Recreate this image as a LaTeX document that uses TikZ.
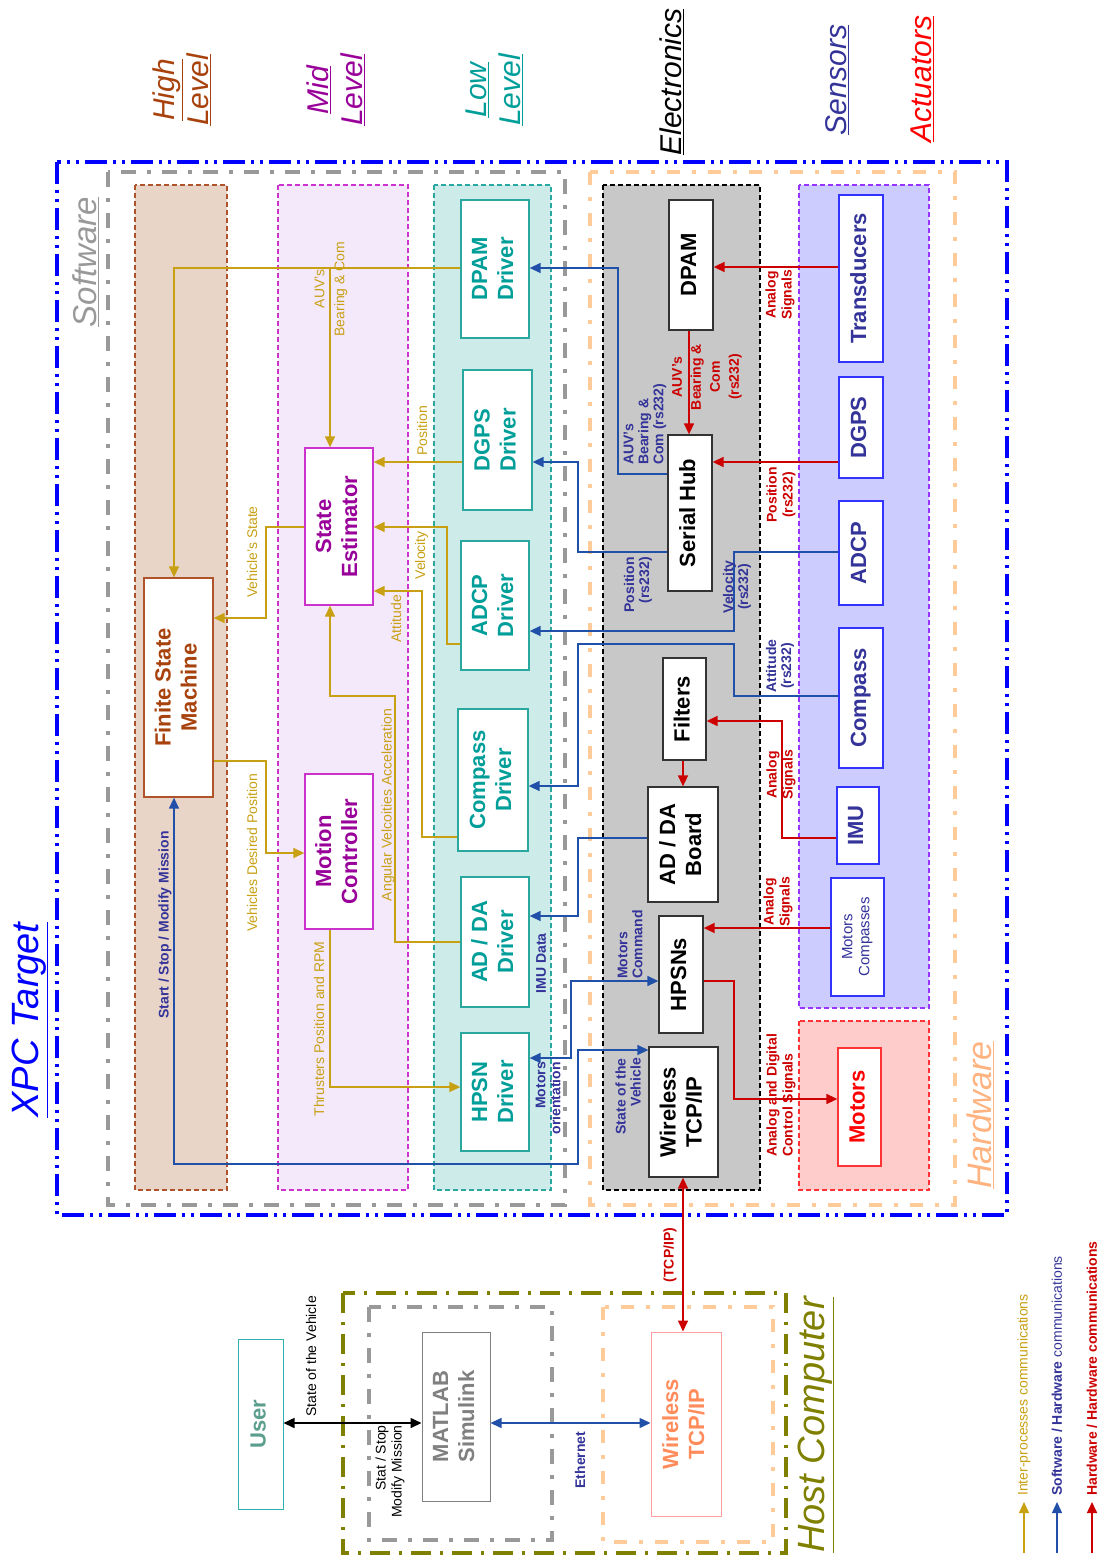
\documentclass[tikz,border=0pt]{standalone}
\usepackage{fontspec}
\setmainfont{Liberation Sans}
\usepackage{graphicx}
\usetikzlibrary{arrows.meta}
\definecolor{xpcblue}{HTML}{0000FF}
\definecolor{swgray}{HTML}{999999}
\definecolor{hwpeach}{HTML}{FFCC99}
\definecolor{hwtext}{HTML}{FFB380}
\definecolor{hlfill}{HTML}{E8D5C8}
\definecolor{hlline}{HTML}{B0532A}
\definecolor{hltext}{HTML}{A8420C}
\definecolor{mlfill}{HTML}{F4E9FB}
\definecolor{mlline}{HTML}{CC33CC}
\definecolor{mltext}{HTML}{990099}
\definecolor{llfill}{HTML}{CCEBE9}
\definecolor{llline}{HTML}{2AA8A0}
\definecolor{lltext}{HTML}{009E99}
\definecolor{elfill}{HTML}{C8C8C8}
\definecolor{snfill}{HTML}{CCCCFF}
\definecolor{snline}{HTML}{9933FF}
\definecolor{snbord}{HTML}{3333FF}
\definecolor{sntext}{HTML}{333399}
\definecolor{acfill}{HTML}{FFCCCC}
\definecolor{acline}{HTML}{FF3333}
\definecolor{ipcgold}{HTML}{C8A014}
\definecolor{comblue}{HTML}{2150A8}
\definecolor{hwred}{HTML}{CC0000}
\definecolor{hostolive}{HTML}{808000}
\definecolor{usertext}{HTML}{5C9E8E}
\definecolor{userline}{HTML}{33B0B0}
\definecolor{mattext}{HTML}{808080}
\definecolor{hwlline}{HTML}{FFA0A0}
\definecolor{hwltext}{HTML}{FF8C5A}
\newcommand\rtx[1]{\rotatebox{90}{\begin{tabular}{@{}c@{}}#1\end{tabular}}}
\tikzset{
  onearr/.style={-{Triangle[length=11pt,width=10pt]}},
  twoarr/.style={{Triangle[length=11pt,width=10pt]}-{Triangle[length=11pt,width=10pt]}},
  xframe/.style={line width=3.5pt},
  lane/.style={line width=1.2pt,dash pattern=on 5pt off 3pt},
  blk/.style={draw,fill=white,line width=1.3pt,inner sep=0pt,font=\fontsize{22}{26}\selectfont\bfseries},
  sz/.style 2 args={minimum width=#1pt,minimum height=#2pt},
  hlbox/.style={blk,draw=hlline,text=hltext},
  mlbox/.style={blk,draw=mlline,text=mltext},
  llbox/.style={blk,draw=llline,text=lltext},
  elbox/.style={blk,draw=black!80,text=black},
  snbox/.style={blk,draw=snbord,text=sntext},
  acbox/.style={blk,draw=acline,text=red},
  lbl/.style={rotate=90,inner sep=0pt,align=center,font=\fontsize{14}{16}\selectfont},
  glbl/.style={lbl,text=ipcgold},
  blbl/.style={lbl,text=sntext,font=\fontsize{14}{15}\selectfont\bfseries},
  rlbl/.style={lbl,text=hwred,font=\fontsize{14}{16}\selectfont\bfseries},
  ttl/.style={rotate=90,inner sep=0pt,align=center,font=\fontsize{30}{34}\selectfont\itshape},
  gw/.style={ipcgold,line width=1.4pt},
  bw/.style={comblue,line width=1.4pt},
  rw/.style={hwred,line width=1.6pt},
}
\begin{document}
\begin{tikzpicture}[x=1pt,y=-1pt]
  \useasboundingbox (0,0) rectangle (1104,1557);
  % lanes
  \draw[lane,draw=hlline,fill=hlfill] (135,185) rectangle (227,1190);
  \draw[lane,draw=mlline,fill=mlfill] (278,185) rectangle (408,1190);
  \draw[lane,draw=llline,fill=llfill] (434,185) rectangle (551,1190);
  \draw[lane,draw=black,fill=elfill] (603,185) rectangle (760,1190);
  \draw[lane,draw=snline,fill=snfill] (799,185) rectangle (929,1008);
  \draw[lane,draw=acline,fill=acfill] (799,1021) rectangle (929,1190);
  % frames
  \draw[xframe,xpcblue,dash pattern=on 22pt off 6pt on 3pt off 6pt on 3pt off 6pt] (57,162) rectangle (1007,1215);
  \draw[xframe,swgray,line width=4pt,dash pattern=on 15pt off 11pt on 4pt off 11pt] (108,172) rectangle (565,1205);
  \draw[xframe,hwpeach,dash pattern=on 13pt off 12pt on 4pt off 12pt] (590,172) rectangle (955,1205);
  \draw[xframe,hostolive,line width=4pt,dash pattern=on 20pt off 9pt on 3pt off 9pt] (343,1293) rectangle (786,1553);
  \draw[xframe,swgray,line width=4pt,dash pattern=on 15pt off 11pt on 4pt off 11pt] (369,1307) rectangle (552,1540);
  \draw[xframe,hwpeach,dash pattern=on 13pt off 12pt on 4pt off 12pt] (603,1307) rectangle (773,1542);

  % titles
  \node[ttl,text=hltext] (thigh) at (182,90) {\underline{High}\\\underline{Level}};
  \node[ttl,text=mltext] (tmid) at (336,90) {\underline{Mid}\\\underline{Level}};
  \node[ttl,text=lltext] (tlow) at (494,90) {\underline{Low}\\\underline{Level}};
  \node[ttl] (telec) at (672,82) {\underline{Electronics}};
  \node[ttl,text=sntext] (tsens) at (837,80) {\underline{Sensors}};
  \node[ttl,text=red] (tact) at (922,79) {\underline{Actuators}};
  \node[ttl,text=xpcblue,font=\fontsize{38}{40}\selectfont\itshape] (txpc) at (30,1020) {\underline{XPC Target}};
  \node[ttl,text=swgray,font=\fontsize{33}{36}\selectfont\itshape] (tsw) at (86,262) {\underline{Software}};
  \node[ttl,text=hwtext,font=\fontsize{34}{36}\selectfont\itshape] (thw) at (980,1115) {\underline{Hardware}};
  \node[ttl,text=hostolive,font=\fontsize{38}{40}\selectfont\itshape] (thost) at (816,1425) {\underline{Host Computer}};

  % high / mid level
  \node[hlbox,sz={69}{219}] (fsm) at (178.5,687.5) {\rtx{Finite State\\Machine}};
  \node[mlbox,sz={68}{157}] (se) at (339,526.5) {\rtx{State\\Estimator}};
  \node[mlbox,sz={68}{155}] (mc) at (339,851.5) {\rtx{Motion\\Controller}};
  % low level
  \node[llbox,sz={68}{138}] (dpamdrv) at (495,269) {\rtx{DPAM\\Driver}};
  \node[llbox,sz={69}{140}] (dgpsdrv) at (497.5,440) {\rtx{DGPS\\Driver}};
  \node[llbox,sz={68}{129}] (adcpdrv) at (495,605.5) {\rtx{ADCP\\Driver}};
  \node[llbox,sz={70}{142}] (compdrv) at (493,780) {\rtx{Compass\\Driver}};
  \node[llbox,sz={68}{130}] (addadrv) at (495,942) {\rtx{AD / DA\\Driver}};
  \node[llbox,sz={68}{118}] (hpsndrv) at (495,1092) {\rtx{HPSN\\Driver}};
  % electronics
  \node[elbox,sz={44}{130}] (dpam) at (691,265) {\rtx{DPAM}};
  \node[elbox,sz={44}{156}] (hub) at (690,513) {\rtx{Serial Hub}};
  \node[elbox,sz={43}{102}] (filt) at (684.5,709) {\rtx{Filters}};
  \node[elbox,sz={70}{115}] (adda) at (683,844.5) {\rtx{AD / DA\\Board}};
  \node[elbox,sz={44}{117}] (hpsn) at (681,974.5) {\rtx{HPSNs}};
  \node[elbox,sz={69}{130}] (wless) at (683.5,1112) {\rtx{Wireless\\TCP/IP}};
  % sensors, actuators
  \node[snbox,sz={44}{167}] (trans) at (861,278.5) {\rtx{Transducers}};
  \node[snbox,sz={44}{101}] (dgps) at (861,427.5) {\rtx{DGPS}};
  \node[snbox,sz={44}{104}] (adcp) at (861,553) {\rtx{ADCP}};
  \node[snbox,sz={44}{140}] (comp) at (861,698) {\rtx{Compass}};
  \node[snbox,sz={42}{77}] (imu) at (858,825.5) {\rtx{IMU}};
  \node[snbox,sz={53}{118},font=\fontsize{15}{17}\selectfont] (mcomp) at (857.5,937) {\rtx{Motors\\Compasses}};
  \node[acbox,sz={43}{118}] (motors) at (859.5,1107) {\rtx{Motors}};
  % host computer
  \node[blk,draw=userline,text=usertext,sz={45}{170},line width=1pt] (user) at (260.5,1424) {\rtx{User}};
  \node[blk,draw=mattext,text=mattext,sz={68}{169},line width=1pt] (matlab) at (456,1416.5) {\rtx{MATLAB\\Simulink}};
  \node[blk,draw=hwlline,text=hwltext,sz={70}{184},line width=1pt] (hwless) at (686,1424) {\rtx{Wireless\\TCP/IP}};

  % inter-process links
  \coordinate (jbear) at (330,268);
  \draw[gw,onearr] (dpamdrv.west |- 0,268) -| (fsm.north -| 174,0);
  \draw[gw,onearr] (jbear) -- (se.north -| jbear);
  \draw[gw,onearr] (dgpsdrv.west |- 0,462) -- (se.east |- 0,462);
  \draw[gw,onearr] (adcpdrv.west |- 0,644) -| (447,527) -- (se.east |- 0,527);
  \draw[gw,onearr] (compdrv.west |- 0,837) -| (422,591) -- (se.east |- 0,591);
  \draw[gw,onearr] (addadrv.west |- 0,942) -| (395,696) -| (se.south -| jbear);
  \draw[gw,onearr] (se.west |- 0,527) -| (266,618) -- (fsm.east |- 0,618);
  \draw[gw,onearr] (fsm.east |- 0,761) -| (266,853) -- (mc.west |- 0,853);
  \draw[gw,onearr] (mc.south -| jbear) |- (hpsndrv.west |- 0,1087);
  \node[glbl] (lbear) at (331,289) {AUV's\\[4pt]Bearing \& Com};
  \node[glbl,anchor=west] (lpos) at (422,456) {Position};
  \node[glbl,anchor=east] (lvel) at (421.5,531) {Velocity};
  \node[glbl,anchor=east] (latt) at (396,595) {Attitude};
  \node[glbl] (lacc) at (388,805) {Angular Velcoities Acceleration};
  \node[glbl] (lvst) at (252,552) {Vehicle's State};
  \node[glbl] (ldes) at (252,853) {Vehicles Desired Position};
  \node[glbl] (lthr) at (319,1029) {Thrusters Position and RPM};

  % software / hardware links
  \draw[bw,onearr] (hub.west |- 0,474) -| (618,268) -- (dpamdrv.east |- 0,268);
  \draw[bw,onearr] (hub.west |- 0,552) -| (578,462) -- (dgpsdrv.east |- 0,462);
  \draw[bw,onearr] (adcp.west |- 0,552) -| (734,631) -- (adcpdrv.east |- 0,631);
  \draw[bw,onearr] (comp.west |- 0,696) -| (734,644) -| (578,786) -- (compdrv.east |- 0,786);
  \draw[bw,onearr] (adda.west |- 0,838) -| (578,916) -- (addadrv.east |- 0,916);
  \draw[bw,twoarr] (hpsndrv.east |- 0,1058) -| (571,981) -- (hpsn.west |- 0,981);
  \draw[bw,twoarr] (fsm.south -| 174,0) |- (578,1164) |- (wless.west |- 0,1050);
  \node[blbl] (lmis) at (165,925) {Start / Stop / Modify Mission};
  \node[blbl,anchor=west,align=left] (lsbear) at (645,465) {AUV's\\Bearing \&\\Com (rs232)};
  \node[blbl,anchor=east,align=right] (lspos) at (638,557) {Position\\(rs232)};
  \node[blbl] (lsvel) at (737,587) {Velocity\\(rs232)};
  \node[blbl] (lsatt) at (780,666) {Attitude\\(rs232)};
  \node[blbl,anchor=east] (limu) at (541,933) {IMU Data};
  \node[blbl,anchor=west,align=left] (lcmd) at (630,979) {Motors\\Command};
  \node[blbl,anchor=east,align=right] (lori) at (548,1062) {Motors\\orientation};
  \node[blbl,anchor=east,align=right] (lsov) at (628,1058) {State of the\\Vehicle};

  % hardware / hardware links
  \draw[rw,onearr] (trans.west |- 0,267) -- (dpam.east |- 0,267);
  \draw[rw,onearr] (dpam.south -| 689,0) -- (hub.north -| 689,0);
  \draw[rw,onearr] (dgps.west |- 0,462) -- (hub.east |- 0,462);
  \draw[rw,onearr] (imu.west |- 0,838) -| (782,721) -- (filt.east |- 0,721);
  \draw[rw,onearr] (filt.south -| 683,0) -- (adda.north -| 683,0);
  \draw[rw,onearr] (mcomp.west |- 0,928) -- (hpsn.east |- 0,928);
  \draw[rw,onearr] (hpsn.east |- 0,981) -| (734,1099) -- (motors.west |- 0,1099);
  \draw[rw,twoarr] (wless.south -| 683,0) -- (hwless.north -| 683,0);
  \node[rlbl] (lan1) at (780,295) {Analog\\Signals};
  \node[rlbl,font=\fontsize{14}{19}\selectfont\bfseries] (lhbear) at (707,377) {AUV's\\Bearing \&\\Com\\(rs232)};
  \node[rlbl] (lhpos) at (781,495) {Position\\(rs232)};
  \node[rlbl] (lan2) at (781,775) {Analog\\Signals};
  \node[rlbl] (lan3) at (778,902) {Analog\\Signals};
  \node[rlbl,anchor=west,align=left] (lctl) at (781,1157) {Analog and Digital\\Control Signals};
  \node[rlbl] (ltcp) at (670,1255) {(TCP/IP)};

  % host links
  \draw[line width=1.6pt,twoarr] (user.east |- 0,1423) -- (matlab.west |- 0,1423);
  \draw[bw,twoarr] (matlab.east |- 0,1423) -- (hwless.west |- 0,1423);
  \node[lbl,anchor=west] (lhsov) at (311,1417) {State of the Vehicle};
  \node[lbl,anchor=east,align=right] (lhmis) at (390,1425) {Stat / Stop\\Modify Mission};
  \node[blbl] (leth) at (580,1460) {Ethernet};

  % legend
  \node[glbl,anchor=west] (lgt1) at (1024,1496) {Inter-processes communications};
  \node[lbl,anchor=west,text=sntext] (lgt2) at (1057,1496) {\textbf{Software / Hardware} communications};
  \node[rlbl,anchor=west] (lgt3) at (1092,1496) {Hardware / Hardware communications};
  \coordinate (lga1) at (1024,1553);
  \coordinate (lga2) at (1057,1553);
  \coordinate (lga3) at (1092,1553);
  \draw[gw,onearr,shorten >=6pt] (lga1) -- (lgt1.west);
  \draw[bw,onearr,shorten >=6pt] (lga2) -- (lgt2.west);
  \draw[rw,onearr,shorten >=6pt] (lga3) -- (lgt3.west);
\end{tikzpicture}
\end{document}
